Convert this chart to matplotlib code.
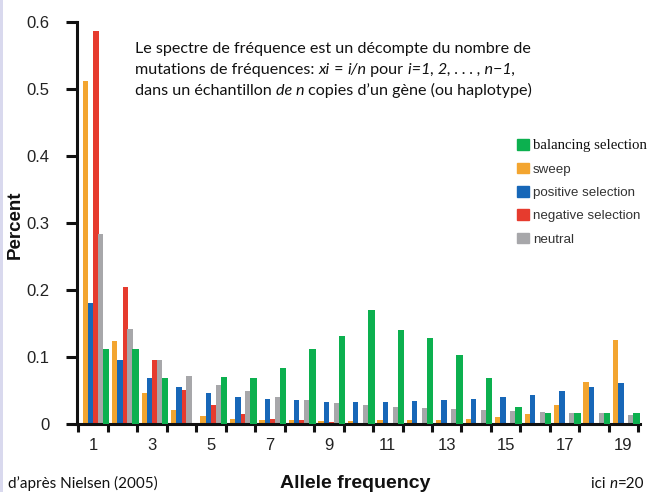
import matplotlib
matplotlib.use("Agg")
import matplotlib.pyplot as plt
from matplotlib.patches import Rectangle, Patch
from matplotlib.font_manager import FontProperties
from matplotlib.text import Annotation
import numpy as np

# Site frequency spectrum, i = 1 .. n-1 with n = 20
classes = list(range(1, 20))
tick_labels = ["1", "3", "5", "7", "9", "11", "13", "15", "17", "19"]

sweep = [0.512, 0.124, 0.047, 0.021, 0.012, 0.008, 0.006, 0.006, 0.005, 0.005,
         0.006, 0.006, 0.006, 0.007, 0.010, 0.015, 0.029, 0.062, 0.126]
positive = [0.180, 0.095, 0.068, 0.055, 0.047, 0.041, 0.037, 0.036, 0.033, 0.033,
            0.033, 0.035, 0.036, 0.037, 0.040, 0.043, 0.050, 0.055, 0.061]
negative = [0.587, 0.204, 0.096, 0.051, 0.028, 0.015, 0.008, 0.006, 0.003, 0.002,
            0.001, 0.001, 0.001, 0.001, 0.0, 0.0, 0.0, 0.0, 0.0]
neutral = [0.284, 0.142, 0.095, 0.072, 0.058, 0.049, 0.040, 0.036, 0.031, 0.028,
           0.026, 0.024, 0.022, 0.021, 0.019, 0.018, 0.017, 0.016, 0.014]
balancing = [0.112, 0.112, 0.068, 0.0, 0.070, 0.069, 0.083, 0.112, 0.131, 0.170,
             0.141, 0.128, 0.103, 0.069, 0.026, 0.017, 0.017, 0.017, 0.017]

C_SWEEP = "#f3a530"
C_POS = "#1767b8"
C_NEG = "#e63b2e"
C_NEU = "#a7a7aa"
C_BAL = "#0cb04f"

fig = plt.figure(figsize=(6.52, 4.92), dpi=100)
fig.patch.set_facecolor("white")
# thin slide edge on the left
fig.patches.append(Rectangle((0, 0), 3 / 652, 1, transform=fig.transFigure,
                             facecolor="#d9d9ee", edgecolor="none"))

ax = fig.add_axes([77 / 652, 68 / 492, (640 - 77) / 652, (470 - 68) / 492])
x = np.array(classes, dtype=float)
w = 0.18
ax.bar(x - 0.27, sweep, w, color=C_SWEEP, linewidth=0)
ax.bar(x - 0.09, positive, w, color=C_POS, linewidth=0)
ax.bar(x + 0.09, negative, w, color=C_NEG, linewidth=0)
ax.bar(x + 0.25, neutral, w, color=C_NEU, linewidth=0)
ax.bar(x + 0.44, balancing, 0.22, color=C_BAL, linewidth=0, zorder=3)

ax.set_xlim(0.45, 19.56)
ax.set_ylim(0, 0.6)
for s in ("top", "right"):
    ax.spines[s].set_visible(False)
for s in ("left", "bottom"):
    ax.spines[s].set_linewidth(2.2)
    ax.spines[s].set_color("#111111")

# ticks mark the class boundaries, labels sit under the odd classes
ax.set_xticks(np.arange(0.5, 20.0, 1.0))
ax.set_xticklabels([])
ax.set_xticks([int(t) for t in tick_labels], minor=True)
ax.set_xticklabels(tick_labels, minor=True)
ax.tick_params(axis="x", which="major", direction="out", length=6, width=2.2,
               color="#111111")
ax.tick_params(axis="x", which="minor", length=0, pad=10, labelsize=12,
               labelcolor="#222222")
ax.set_yticks([0, 0.1, 0.2, 0.3, 0.4, 0.5, 0.6])
ax.set_yticklabels(["0", "0.1", "0.2", "0.3", "0.4", "0.5", "0.6"])
ax.tick_params(axis="y", direction="out", length=8, width=2.2, color="#111111",
               labelsize=12, labelcolor="#222222", pad=12)
for lab in ax.get_xticklabels(minor=True) + ax.get_yticklabels():
    lab.set_fontfamily("Liberation Sans")

fig.text(15 / 652, 1 - 225 / 492, "Percent", rotation=90, ha="center", va="center",
         fontsize=13.5, fontweight="bold", family="Liberation Sans", color="#111111")
fig.text(355 / 652, 1 - 483 / 492, "Allele frequency", ha="center", va="center",
         fontsize=14, fontweight="bold", family="Liberation Sans", color="#111111")


def chain_line(x0, y0, pieces, size):
    """Write one line made of (string, italic) pieces placed end to end."""
    prev = None
    for s, it in pieces:
        kw = dict(fontsize=size, family="Lato", color="#111111",
                  style="italic" if it else "normal", ha="left", va="bottom")
        if prev is None:
            prev = fig.text(x0, y0, s, **kw)
        else:
            prev = fig.add_artist(Annotation(s, xy=(1, 0), xycoords=prev, **kw))


# explanatory note
NOTE = 11.6
chain_line(135 / 652, 1 - 56 / 492,
           [("Le spectre de fréquence est un décompte du nombre de", False)], NOTE)
chain_line(135 / 652, 1 - 77 / 492,
           [("mutations de fréquences: ", False), ("xi", True), (" = ", False),
            ("i/n", True), (" pour ", False), ("i=1, 2, . . . , n−1,", True)], NOTE)
chain_line(135 / 652, 1 - 98 / 492,
           [("dans un échantillon ", False), ("de n", True),
            (" copies d’un gène (ou haplotype)", False)], NOTE)

fig.text(8 / 652, 1 - 483 / 492, "d’après Nielsen (2005)", ha="left", va="center",
         fontsize=11, family="Lato", color="#111111")
chain_line(591 / 652, 1 / 492, [("ici ", False), ("n", True), ("=20", False)], 11)

handles = [Patch(color=C_BAL), Patch(color=C_SWEEP), Patch(color=C_POS),
           Patch(color=C_NEG), Patch(color=C_NEU)]
labels = ["balancing selection", "sweep", "positive selection",
          "negative selection", "neutral"]
leg = fig.legend(handles, labels, loc="upper left",
                 bbox_to_anchor=(512 / 652, 1 - 134 / 492), frameon=False,
                 handlelength=0.85, handleheight=0.85, handletextpad=0.3,
                 labelspacing=0.78, fontsize=9.6, borderaxespad=0)
for i, t in enumerate(leg.get_texts()):
    if i == 0:
        t.set_fontproperties(FontProperties(family="Liberation Serif", size=10.6))
        t.set_color("#111111")
    else:
        t.set_fontproperties(FontProperties(family="Liberation Sans", size=9.6))
        t.set_color("#333333")

fig.savefig("out.png", dpi=100)
